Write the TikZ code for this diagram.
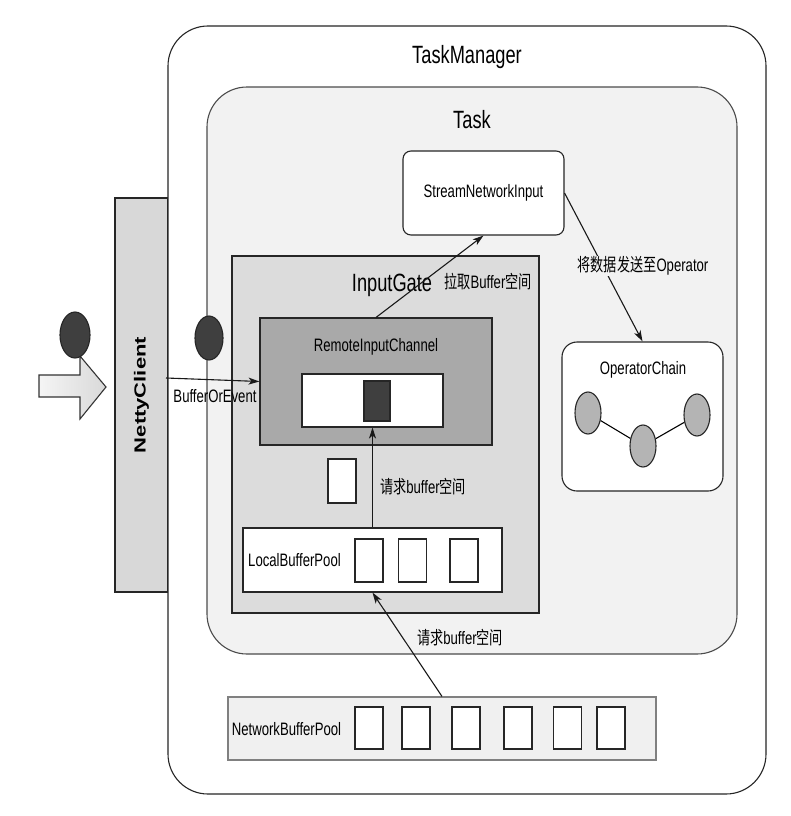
\documentclass[tikz,border=0pt]{standalone}
\usepackage{fontspec}
\setmainfont{Liberation Sans}[FakeStretch=0.73]
\newfontfamily\cjk{Noto Sans CJK SC}[FakeStretch=0.73]
\newfontfamily\widefont{Liberation Sans}
\usetikzlibrary{arrows.meta,positioning,shapes.geometric}
\definecolor{taskbg}{HTML}{F2F2F2}
\definecolor{gatebg}{HTML}{DCDCDC}
\definecolor{chanbg}{HTML}{A9A9A9}
\definecolor{darkfill}{HTML}{3F3F3F}
\definecolor{opfill}{HTML}{B4B4B4}
\definecolor{nettybg}{HTML}{D8D8D8}
\definecolor{poolbg}{HTML}{F0F0F0}
\tikzset{>={Stealth[length=11pt,width=7pt,inset=3pt]}}

\begin{document}
\begin{tikzpicture}[x=1pt,y=-1pt]
	\tikzset{block/.style={draw=black!85, line width=1.1pt, rectangle, inner sep=0pt},
		rblock/.style={block, rounded corners=#1},
		slot/.style={block, fill=white, minimum width=28, minimum height=43},
		dot/.style={draw=black!85, line width=1.1pt, ellipse, inner sep=0pt, fill=#1},
		lbl/.style={inner sep=1pt, font=\fontsize{18}{21}\selectfont},
		headline/.style={inner sep=1pt, font=\fontsize{25}{29}\selectfont},
		link/.style={->, line width=1.1pt, draw=black!90},
	}
	\useasboundingbox[fill=white] (0,0) rectangle (790,816);
	% outside
	\node [block, fill=nettybg, minimum width=53, minimum height=394] (nc) at (141.5,395) {};
	\node [rotate=90, font=\widefont\bfseries\fontsize{22}{24}\selectfont] (nclabel) at (nc.center) {\scalebox{1}[0.73]{NettyClient}};
	\draw [line width=1.1pt, draw=black!80, left color=gray!8, right color=gray!30]
		(39,375) -- (80,375) -- (80,356) -- (106,387) -- (80,419) -- (80,397) -- (39,397) -- cycle;
	\node [dot=darkfill, minimum width=30, minimum height=46] (d1) at (75,335) {};
	% TaskManager and Task
	\node [rblock=40, fill=white, minimum width=598, minimum height=768] (tm) at (467,410) {};
	\node [headline] (tmlabel) at (467,57) {TaskManager};
	\node [rblock=40, fill=taskbg, draw=black!70, minimum width=530, minimum height=567] (task) at (472,370.5) {};
	\node [headline] (tasklabel) at (472,120) {Task};
	\node [dot=darkfill, minimum width=28, minimum height=44] (d2) at (209,338) {};
	\node [rblock=8, fill=white, minimum width=161, minimum height=84] (sni) at (483.5,193) {};
	\node [lbl] (snilabel) at (sni.center) {StreamNetworkInput};
	% InputGate
	\node [block, fill=gatebg, minimum width=307, minimum height=357] (gate) at (385.5,434.5) {};
	\node [headline] (gatelabel) at (392,285) {InputGate};
	\node [block, fill=chanbg, minimum width=232, minimum height=127] (ric) at (376,381.5) {};
	\node [lbl] (riclabel) at (376,347) {RemoteInputChannel};
	\node [block, fill=white, minimum width=141, minimum height=53] (queue) at (372.5,400.5) {};
	\node [block, fill=darkfill, minimum width=26, minimum height=40] (buf) at (377,401) {};
	\node [slot, minimum height=44] (free) at (342,481) {};
	\node [block, fill=white, minimum width=259, minimum height=64] (lbp) at (372.5,560) {};
	\node [lbl] (lbplabel) at (294.5,560) {LocalBufferPool};
	\foreach \x [count=\i] in {369,412.5,464}
		\node [slot] (ls\i) at (\x,560.5) {};
	% OperatorChain
	\node [rblock=15, fill=white, minimum width=161, minimum height=149] (oc) at (642.5,416.5) {};
	\node [lbl] (oclabel) at (643,370) {OperatorChain};
	\node [dot=opfill, minimum width=26, minimum height=42] (op1) at (588,413) {};
	\node [dot=opfill, minimum width=26, minimum height=42] (op2) at (643,446) {};
	\node [dot=opfill, minimum width=26, minimum height=42] (op3) at (697,415) {};
	\draw [line width=1.1pt] (op1) -- (op2) -- (op3);
	% NetworkBufferPool
	\node [block, fill=poolbg, draw=black!50, minimum width=428, minimum height=63] (nbp) at (442,728.5) {};
	\node [lbl] (nbplabel) at (286.5,729) {NetworkBufferPool};
	\foreach \x [count=\i] in {369,416,466,518,567.5,611}
		\node [slot, minimum height=42] (ns\i) at (\x,728) {};
	% connectors
	\coordinate (boe) at (166,378);
	\draw [link] (boe) -- (ric.west);
	\node [lbl] (boelabel) at (215,396) {BufferOrEvent};
	\draw [link] (ric.north) -- (sni.south);
	\node [lbl] (pulllabel) at (488,282) {{\cjk 拉取}Buffer{\cjk 空间}};
	\draw [link] (sni.east) -- (oc.north);
	\node [lbl, fill=taskbg] (sendlabel) at (643,266) {{\cjk 将数据发送至}Operator};
	\draw [link] (lbp.north) -- (queue.south);
	\node [lbl] (req1label) at (423,487) {{\cjk 请求}buffer{\cjk 空间}};
	\draw [link] (nbp.north) -- (lbp.south);
	\node [lbl] (req2label) at (460,638) {{\cjk 请求}buffer{\cjk 空间}};
\end{tikzpicture}
\end{document}
